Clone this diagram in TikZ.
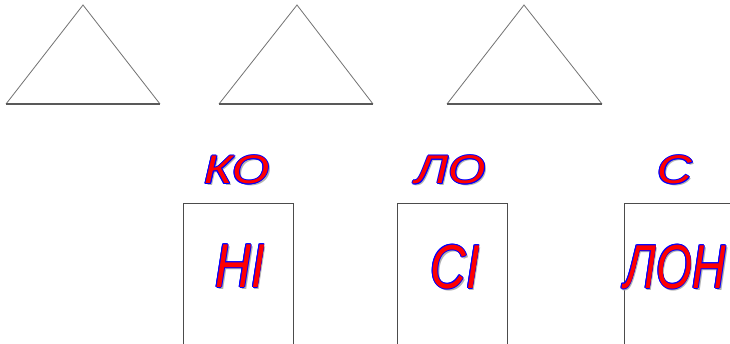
\documentclass[tikz,border=0pt]{standalone}
\usepackage{fontspec}
\setmainfont{Liberation Sans}
\usepackage{tikz}

% word-art label: shadow, blue rim, red face
\newcommand{\artword}[5]{%
  \node[text=black!30, inner sep=0pt] at ([shift={(1.8pt,-1.8pt)}]#2) {\scalebox{#4}[1]{\fontsize{#3}{#3}\selectfont\itshape #5}};
  \foreach \dx/\dy in {-1/0,0.8/0,0/0.8,0/-0.8,-0.7/0.7,0.6/0.6,-0.7/-0.6,0.6/-0.6}
    \node[text=blue, inner sep=0pt] at ([shift={(\dx pt,\dy pt)}]#2) {\scalebox{#4}[1]{\fontsize{#3}{#3}\selectfont\itshape #5}};
  \node[text=red, inner sep=0pt] (#1) at (#2) {\scalebox{#4}[1]{\fontsize{#3}{#3}\selectfont\itshape #5}};
}

\begin{document}
\begin{tikzpicture}[x=1pt, y=-1pt]
\tikzset{tri/.style={draw=black!55, line width=0.8pt, line join=miter},
         base/.style={draw=black!65, line width=1.3pt},
         slot/.style={draw=black!70, line width=0.9pt}}
\clip (0,0) rectangle (730,344);
\fill[white] (0,0) rectangle (730,344);

% triangles
\draw[tri] (6,104) -- (83,5) -- (160,104);
\draw[base] (6,104) -- (160,104);
\draw[tri] (219,104) -- (297,5) -- (373,104);
\draw[base] (219,104) -- (373,104);
\draw[tri] (447,104) -- (524,5) -- (602,104);
\draw[base] (447,104) -- (602,104);

% boxes
\draw[slot] (183,360) -- (183,203) -- (293,203) -- (293,360);
\draw[slot] (397,360) -- (397,203) -- (507,203) -- (507,360);
\draw[slot] (624,360) -- (624,203) -- (740,203);

% syllables
\coordinate (ko-pos) at (237,170);
\coordinate (lo-pos) at (451,170);
\coordinate (s-pos) at (675,170);
\coordinate (ni-pos) at (240,266);
\coordinate (si-pos) at (455,267);
\coordinate (lon-pos) at (675,267);
\artword{ko}{ko-pos}{40pt}{1.2}{КО}
\artword{lo}{lo-pos}{40pt}{1.2}{ЛО}
\artword{s}{s-pos}{40pt}{1.2}{С}
\artword{ni}{ni-pos}{62pt}{0.8}{НІ}
\artword{si}{si-pos}{62pt}{0.8}{СІ}
\artword{lon}{lon-pos}{62pt}{0.75}{ЛОН}
\end{tikzpicture}
\end{document}
